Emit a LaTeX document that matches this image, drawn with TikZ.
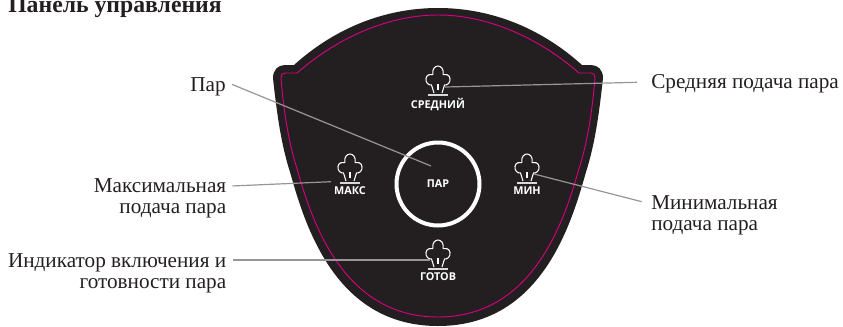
\documentclass[tikz,border=0pt]{standalone}
\usepackage{fontspec}
\setmainfont{Liberation Serif}
\setsansfont{Open Sans}
\usetikzlibrary{positioning}
\definecolor{panelblack}{RGB}{35,31,32}
\definecolor{panelpink}{RGB}{214,0,127}
\definecolor{leadgray}{RGB}{150,150,150}

\tikzset{
  steam/.pic={
    \draw[white, line width=0.8pt, line join=round]
      (-4,27) -- (-6.5,19) .. controls (-10,19.5) and (-12.5,16) .. (-12,12.5)
      .. controls (-11.5,9) and (-8,7.5) .. (-5.2,8.5)
      .. controls (-6,3) and (-3,0) .. (0,0)
      .. controls (3,0) and (6,3) .. (5.2,8.5)
      .. controls (8,7.5) and (11.5,9) .. (12,12.5)
      .. controls (12.5,16) and (10,19.5) .. (6.5,19) -- (4,27);
    \draw[white, line width=0.8pt] (0,18) -- (0,24);
    \draw[white!85!black, line width=1pt] (-10,29) -- (10,29);
  }
}

\begin{document}
\begin{tikzpicture}[
  x=0.75pt, y=-0.75pt,
  callout/.style={
    inner sep=0pt,
    align=right,
    text=panelblack,
    font=\fontsize{15.9}{15.75}\selectfont
  },
  calloutr/.style={callout, align=left},
  panellabel/.style={
    text=white,
    inner sep=0pt,
    font=\sffamily\fontsize{8.1}{9}\selectfont\bfseries
  },
  leader/.style={draw=leadgray, line width=0.9pt}
]
\useasboundingbox (0,0) rectangle (843,326);

% Panel body
\fill[panelblack] (294,65) .. controls (335,28) and (385,8) .. (438,8)
  .. controls (491,8) and (541,28) .. (582,65) -- (591,65)
  .. controls (598,65) and (603,70) .. (603,78)
  .. controls (598,125) and (593,150) .. (586,172)
  .. controls (571,225) and (541,326) .. (438,326)
  .. controls (335,326) and (305,225) .. (290,172)
  .. controls (283,150) and (278,125) .. (273,78)
  .. controls (273,70) and (278,65) .. (285,65) -- cycle;
\draw[panelpink, line width=0.7pt] (297,73) .. controls (337,38) and (388,15) .. (438,15)
  .. controls (488,15) and (539,38) .. (579,73) -- (591,73)
  .. controls (594,73) and (595,75) .. (595,78)
  .. controls (591,125) and (585,150) .. (578,172)
  .. controls (563,225) and (531,317) .. (438,317)
  .. controls (345,317) and (313,225) .. (298,172)
  .. controls (291,150) and (285,125) .. (281,78)
  .. controls (281,75) and (282,73) .. (285,73) -- cycle;

% Ring and icons
\node[circle, draw=white, line width=3pt, minimum size=62.25pt, inner sep=0pt,
  panellabel] (ring) at (438,184) {ПАР};
\pic at (438,66) {steam};
\pic at (350,154) {steam};
\pic at (527,154) {steam};
\pic at (438,240) {steam};
\node[panellabel] (sredniy) at (438,105) {СРЕДНИЙ};
\node[panellabel] (maks) at (350,191) {МАКС};
\node[panellabel] (min) at (527,191) {МИН};
\node[panellabel] (gotov) at (438,277) {ГОТОВ};

% Callout texts
\node[inner sep=0pt, anchor=base west, text=panelblack, font=\fontsize{17.8}{20}\selectfont\bfseries] (title) at (8,12.7) {Панель управления};
\node[callout, anchor=base east] (lblpar) at (226,91.7) {Пар};
\node[callout, anchor=east] (lblmaks) at (226.5,198.5) {Максимальная\\подача пара};
\node[callout, anchor=east] (lblgotov) at (226.5,273) {Индикатор включения и\\готовности пара};
\node[calloutr, anchor=base west] (lblsred) at (651,88.3) {Средняя подача пара};
\node[calloutr, anchor=west] (lblmin) at (651,215) {Минимальная\\подача пара};

% Leaders
\coordinate (tippar) at (431,166);
\coordinate (tipsred) at (445,87);
\coordinate (tipmaks) at (331,181.7);
\coordinate (tipmin) at (534,174);
\coordinate (tipgotov) at (430,260);
\draw[leader] ([xshift=4.5pt,yshift=5.5pt]lblpar.base east) -- (tippar);
\draw[leader] ([xshift=-10.5pt,yshift=4.5pt]lblsred.base west) -- (tipsred);
\draw[leader] ([xshift=4.5pt,yshift=9.4pt]lblmaks.east) -- (tipmaks);
\draw[leader] ([xshift=-7pt,yshift=10pt]lblmin.west) -- (tipmin);
\draw[leader] ([xshift=4.5pt,yshift=9.75pt]lblgotov.east) -- (tipgotov);

\end{tikzpicture}
\end{document}
